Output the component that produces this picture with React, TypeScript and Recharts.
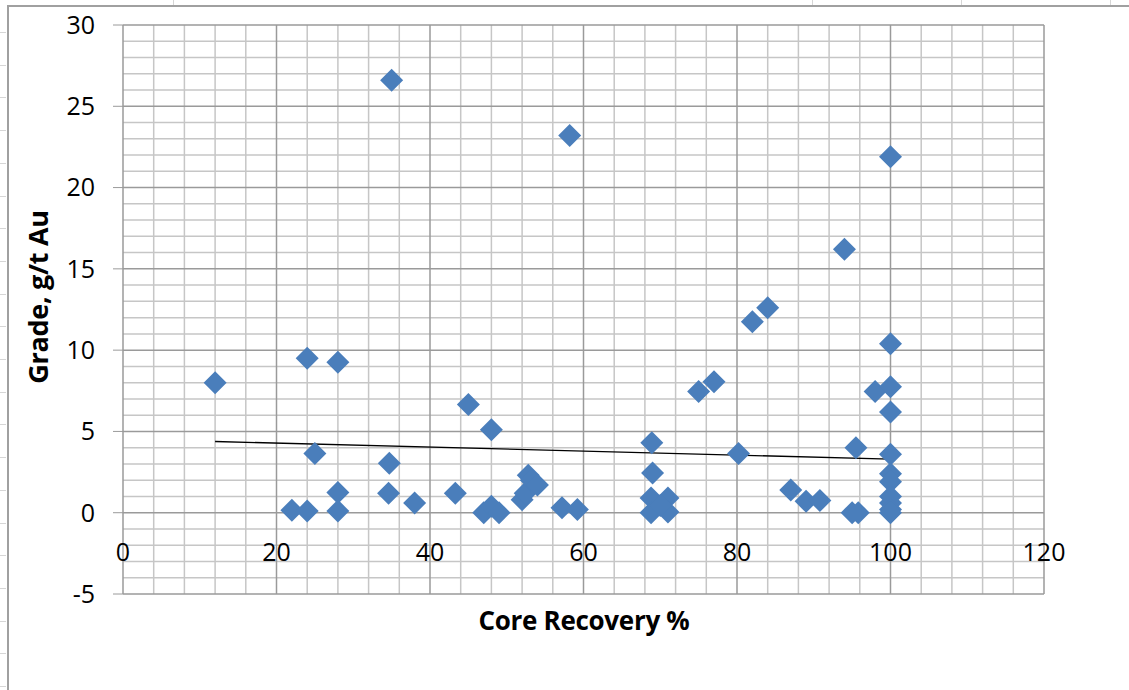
import { ReferenceLine, Scatter, ScatterChart, XAxis, YAxis } from 'recharts'

// Core recovery (%) and gold grade (g/t) per sample interval
const recovery = [
  12, 22, 24, 24, 25, 28, 28, 28, 35, 34.7, 34.6, 38, 43.3, 45, 48, 47, 48, 49, 52, 52.4,
  52.8, 53.2, 54, 57.2, 59.2, 58.2, 68.9, 69, 68.8, 71, 68.8, 71, 70, 75, 77, 80.2, 82, 84,
  87, 89, 90.8, 94, 95, 95.8, 95.5, 98, 100, 100, 100, 100, 100, 100, 100, 100, 100, 100, 100,
]
const grade = [
  8.0, 0.15, 9.5, 0.1, 3.65, 9.25, 1.25, 0.1, 26.6, 3.05, 1.2, 0.6, 1.2, 6.65, 5.1, 0, 0.4, 0,
  0.8, 1.2, 2.3, 2.0, 1.7, 0.3, 0.2, 23.2, 4.3, 2.45, 0.9, 0.9, 0, 0.05, 0.45, 7.45, 8.05,
  3.65, 11.75, 12.6, 1.4, 0.7, 0.75, 16.2, 0, 0, 4.0, 7.45, 21.9, 10.4, 7.75, 6.2, 3.6, 2.4,
  1.9, 1.0, 0.6, 0.2, 0,
]

// Linear trendline end points
const trendRecovery = [12, 100]
const trendGrade = [4.38, 3.3]

const xTicks = [0, 20, 40, 60, 80, 100, 120]
const xMinor = [4, 8, 12, 16, 24, 28, 32, 36, 44, 48, 52, 56, 64, 68, 72, 76, 84, 88, 92, 96, 104, 108, 112, 116]
const yTicks = [-5, 0, 5, 10, 15, 20, 25, 30]
const yMinor = [
  -4, -3, -2, -1, 1, 2, 3, 4, 6, 7, 8, 9, 11, 12, 13, 14, 16, 17, 18, 19, 21, 22, 23, 24, 26, 27,
  28, 29,
]

const samples = recovery.map((x, i) => ({ x, y: grade[i] }))

const FONT = '"Open Sans", sans-serif'
const MARKER = '#4a7ebb'
const MINOR = '#c6c6c6'
const MAJOR = '#9a9a9a'

function Diamond(props: any) {
  const { cx, cy } = props
  const r = 11.5
  return <path d={`M${cx},${cy - r}L${cx + r},${cy}L${cx},${cy + r}L${cx - r},${cy}Z`} fill={MARKER} />
}

// x labels sit beside the zero line rather than under the plot
function XTick(props: any) {
  const { x, y, payload } = props
  return (
    <text x={x} y={y} dy={-33} textAnchor="middle" fill="#000" fontSize={25} fontFamily={FONT}>
      {payload.value}
    </text>
  )
}

// faint worksheet cell borders peeking around the chart area
const sheetCols = [173, 812, 961, 1110]
const sheetRows = Array.from({ length: 21 }, (_, i) => 32 + i * 32.7)

export default function App() {
  return (
    <div
      style={{
        position: 'absolute',
        left: 0,
        top: 0,
        width: 1129,
        height: 690,
        background: '#fff',
        overflow: 'hidden',
      }}
    >
      {sheetCols.map((c) => (
        <div key={c} style={{ position: 'absolute', left: c, top: 0, width: 1, height: 5, background: '#d6d6d6' }} />
      ))}
      {sheetRows.map((r) => (
        <div key={r} style={{ position: 'absolute', left: 0, top: r, width: 6, height: 1, background: '#d6d6d6' }} />
      ))}
      <div
        style={{
          position: 'absolute',
          left: 7,
          top: 5,
          width: 1120,
          height: 690,
          borderLeft: '2px solid #a0a0a0',
          borderTop: '2px solid #a0a0a0',
        }}
      />
      <div style={{ position: 'absolute', left: 0, top: 0 }}>
        <ScatterChart width={1129} height={690} margin={{ top: 25, right: 85, bottom: 66, left: 0 }}>
          <XAxis
            type="number"
            dataKey="x"
            domain={[0, 120]}
            ticks={xTicks}
            height={30}
            axisLine={false}
            tickLine={false}
            tickSize={0}
            tickMargin={0}
            tick={XTick}
            interval={0}
          />
          <YAxis
            type="number"
            dataKey="y"
            domain={[-5, 30]}
            ticks={yTicks}
            width={123}
            axisLine={false}
            tickLine={{ stroke: MAJOR }}
            tickSize={10}
            tickMargin={18}
            interval={0}
            tick={{ fill: '#000', fontSize: 25, fontFamily: FONT }}
          />
          {xMinor.map((v) => (
            <ReferenceLine key={`xm${v}`} x={v} stroke={MINOR} strokeWidth={1.5} />
          ))}
          {yMinor.map((v) => (
            <ReferenceLine key={`ym${v}`} y={v} stroke={MINOR} strokeWidth={1.5} />
          ))}
          {xTicks.map((v) => (
            <ReferenceLine key={`xM${v}`} x={v} stroke={MAJOR} strokeWidth={1.5} />
          ))}
          {yTicks.map((v) => (
            <ReferenceLine key={`yM${v}`} y={v} stroke={MAJOR} strokeWidth={1.5} />
          ))}
          <Scatter data={samples} shape={<Diamond />} isAnimationActive={false} />
          <ReferenceLine
            segment={[
              { x: trendRecovery[0], y: trendGrade[0] },
              { x: trendRecovery[1], y: trendGrade[1] },
            ]}
            stroke="#000"
            strokeWidth={1.3}
          />
        </ScatterChart>
      </div>
      <div
        style={{
          position: 'absolute',
          left: 584,
          top: 620,
          transform: 'translate(-50%, -50%)',
          fontFamily: FONT,
          fontWeight: 700,
          fontSize: 26,
          whiteSpace: 'nowrap',
          letterSpacing: -0.3,
        }}
      >
        Core Recovery %
      </div>
      <div
        style={{
          position: 'absolute',
          left: 37,
          top: 297,
          transform: 'translate(-50%, -50%) rotate(-90deg)',
          fontFamily: FONT,
          fontWeight: 700,
          fontSize: 27,
          whiteSpace: 'nowrap',
          letterSpacing: -0.3,
        }}
      >
        Grade, g/t Au
      </div>
    </div>
  )
}
